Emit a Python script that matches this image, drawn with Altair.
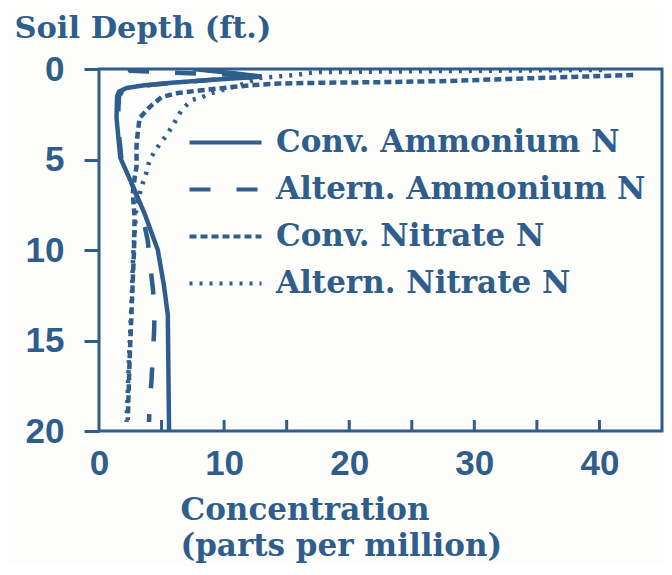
import altair as alt
import pandas as pd

BLUE = "#2f5d8c"

series_names = ["Conv. Ammonium N", "Altern. Ammonium N", "Conv. Nitrate N", "Altern. Nitrate N"]

conv_amm_depth = [0.0, 0.25, 0.42, 0.6, 0.75, 0.9, 1.05, 1.25, 1.5, 2.7, 4.9, 6.3, 7.6, 8.0, 10.0, 12.0, 13.6, 20.0]
conv_amm_conc = [7.5, 11.0, 13.0, 9.0, 6.0, 3.6, 2.2, 1.6, 1.45, 1.4, 1.7, 2.6, 3.4, 3.65, 4.7, 5.2, 5.5, 5.6]

alt_amm_depth = [0.0, 0.1, 0.2, 0.3, 0.4, 0.55, 0.7, 0.85, 1.0, 1.2, 1.5, 3.0, 5.0, 6.3, 7.5, 8.5, 9.5, 10.6, 12.1, 13.2, 14.6, 15.7, 17.2, 18.3, 19.5]
alt_amm_conc = [2.4, 2.5, 6.0, 10.0, 13.3, 10.0, 7.0, 4.5, 2.8, 1.9, 1.6, 1.5, 1.8, 2.6, 3.3, 3.6, 3.9, 4.05, 4.3, 4.45, 4.4, 4.3, 4.2, 4.05, 4.0]

conv_nit_depth = [0.33, 0.5, 0.66, 0.72, 0.76, 0.8, 0.89, 1.0, 1.22, 1.33, 1.55, 2.1, 2.7, 3.5, 4.2, 5.4, 6.0, 6.9, 8.2, 10.0, 13.4, 16.0, 19.4]
conv_nit_conc = [42.7, 35.0, 28.0, 23.3, 18.0, 14.4, 12.4, 10.6, 7.6, 6.3, 5.0, 4.05, 3.25, 3.1, 3.0, 3.0, 2.85, 2.7, 2.85, 2.8, 2.6, 2.45, 2.3]

alt_nit_depth = [0.05, 0.1, 0.17, 0.22, 0.33, 0.44, 0.5, 0.9, 1.33, 1.55, 1.72, 2.27, 3.0, 3.66, 4.3, 5.0, 5.7, 6.3, 7.5, 10.0, 13.0, 16.0, 19.5]
alt_nit_conc = [40.2, 30.0, 17.7, 16.7, 15.8, 13.8, 12.8, 11.2, 9.0, 8.25, 7.4, 6.6, 6.0, 5.4, 4.7, 4.05, 3.8, 3.5, 3.0, 2.75, 2.6, 2.4, 2.2]

minor_ticks = [5, 10, 15, 20, 25, 30, 35, 40]

rows = []
for name, ds, cs in [
    (series_names[0], conv_amm_depth, conv_amm_conc),
    (series_names[1], alt_amm_depth, alt_amm_conc),
    (series_names[2], conv_nit_depth, conv_nit_conc),
    (series_names[3], alt_nit_depth, alt_nit_conc),
]:
    for i, (d, c) in enumerate(zip(ds, cs)):
        rows.append({"series": name, "depth": d, "conc": c, "idx": i})
df = pd.DataFrame(rows)

W, H = 563, 362

xscale = alt.Scale(domain=[0, 45], nice=False, zero=False)
yscale = alt.Scale(domain=[0, 20], reverse=True, nice=False, zero=False)

lines = alt.Chart(df).mark_line(color=BLUE, strokeWidth=4.5, strokeCap="butt", clip=True).encode(
    x=alt.X("conc:Q", scale=xscale, axis=alt.Axis(
        values=[0, 10, 20, 30, 40], format="d", ticks=False, domain=False, grid=False,
        labelFlush=False, labelPadding=15, labelFontSize=35, labelFont="Liberation Sans",
        labelFontWeight="bold", labelColor=BLUE, title=["Concentration", "(parts per million)"],
        titleFont="DejaVu Serif", titleFontWeight="bold", titleFontSize=31, titleColor=BLUE,
        titleAlign="left", titleAnchor="start", titleX=81, titleY=88, titleBaseline="alphabetic",
        titleLineHeight=36)),
    y=alt.Y("depth:Q", scale=yscale, axis=alt.Axis(
        values=[0, 5, 10, 15, 20], format="d", tickSize=15, tickWidth=3, tickColor=BLUE,
        domain=False, grid=False, labelPadding=20, labelFontSize=35, labelFont="Liberation Sans",
        labelFontWeight="bold", labelColor=BLUE, labelBaseline="middle", labelFlush=False,
        title="Soil Depth (ft.)", titleAngle=0, titleAlign="left", titleX=-85, titleY=-32,
        titleBaseline="alphabetic", titleFont="DejaVu Serif", titleFontWeight="bold",
        titleFontSize=30.5, titleColor=BLUE)),
    strokeDash=alt.StrokeDash("series:N", scale=alt.Scale(
        domain=series_names, range=[[1, 0], [21, 26], [7, 4], [3, 7]]),
        legend=alt.Legend(
            orient="none", legendX=111, legendY=58, title=None,
            symbolType="M-3,0H3", symbolSize=576, symbolStrokeWidth=4,
            symbolFillColor="transparent",
            symbolStrokeColor=BLUE, labelFont="DejaVu Serif", labelFontWeight="bold",
            labelFontSize=31, labelColor=BLUE, labelOffset=35, labelLimit=0,
            rowPadding=15)),
    order="idx:Q",
)

tick_df = pd.DataFrame({"t": minor_ticks})
ticks = alt.Chart(tick_df).mark_rule(color=BLUE, strokeWidth=3).encode(
    x=alt.X("t:Q", scale=xscale),
    y=alt.value(H),
    y2=alt.value(H - 11),
)

chart = alt.layer(lines, ticks).properties(
    width=W, height=H,
    background="#fdfdfb",
    padding={"left": 91, "top": 61, "right": 2, "bottom": 135},
    autosize=alt.AutoSizeParams(type="none"),
).configure_view(stroke=BLUE, strokeWidth=3)

chart.save("out.html", embed_options={"renderer": "svg", "actions": False})
